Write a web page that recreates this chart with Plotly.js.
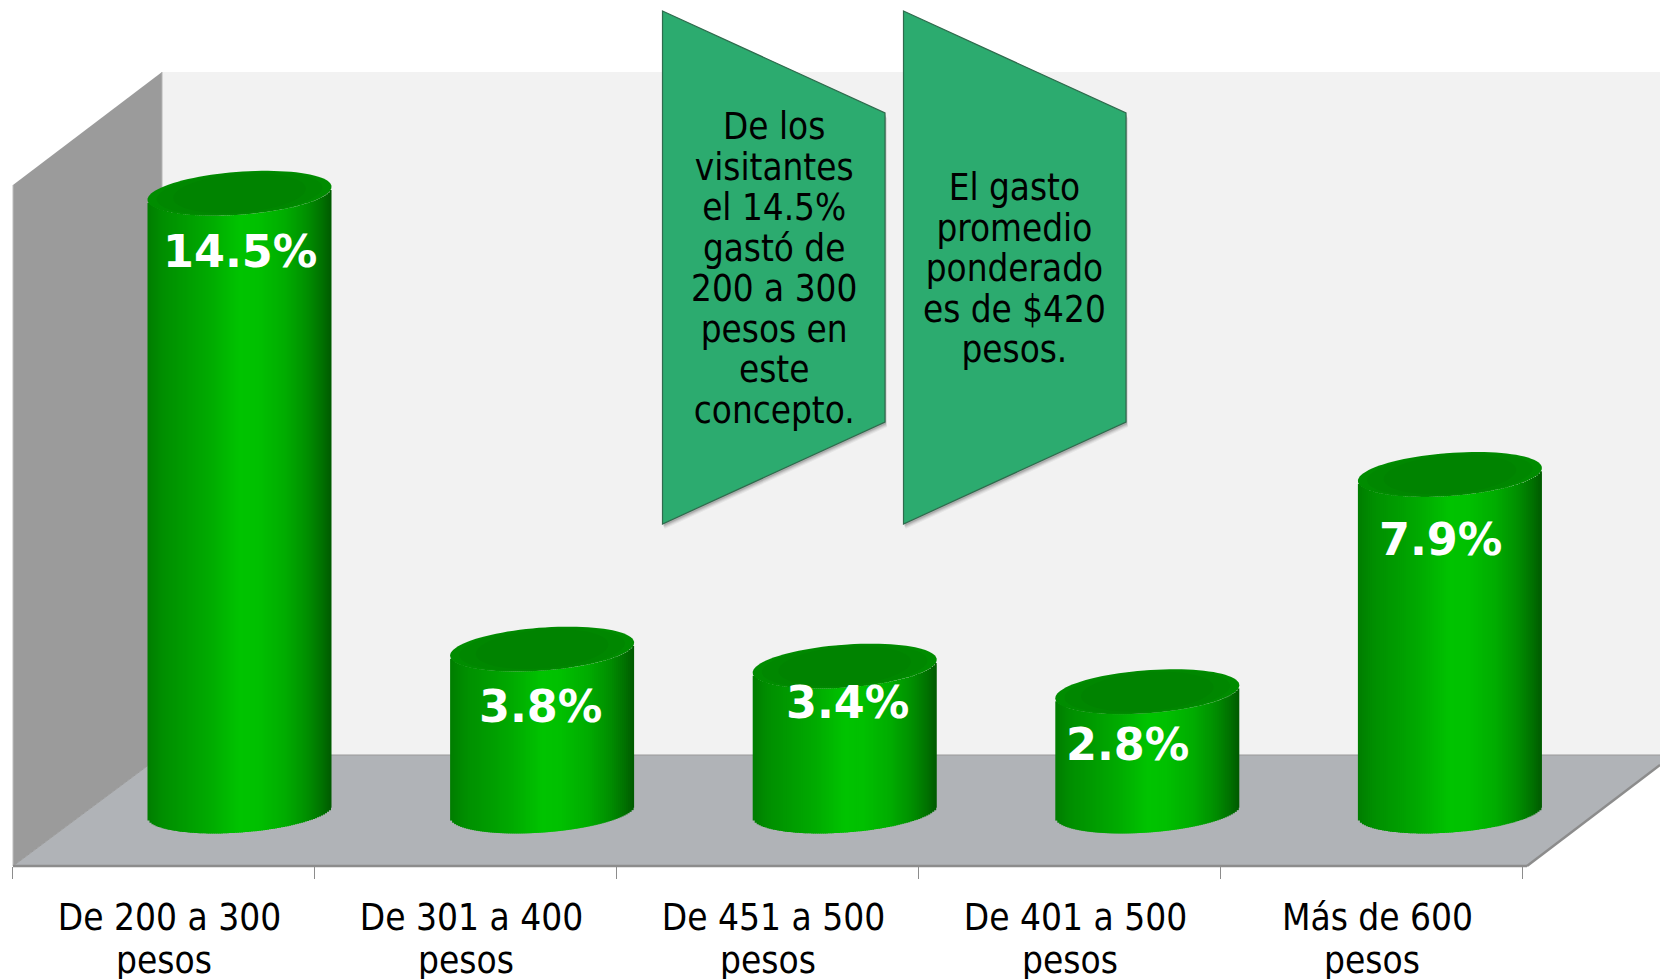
<!DOCTYPE html>
<html>
<head>
<meta charset="utf-8">
<script src="https://cdn.plot.ly/plotly-3.0.1.min.js"></script>
<style>html,body{margin:0;padding:0;background:#fff;overflow:hidden}#chart{width:1660px;height:979px}</style>
</head>
<body>
<div id="chart"></div>
<script>
// ---- data ----
const categories = ['De 200 a 300<br>pesos','De 301 a 400<br>pesos','De 451 a 500<br>pesos','De 401 a 500<br>pesos','Más de 600<br>pesos'];
const values = [14.5, 3.8, 3.4, 2.8, 7.9];
const valueLabels = ['14.5%','3.8%','3.4%','2.8%','7.9%'];
const labelShiftX = [76, 75, 80, 58, 69];
const labelShiftY = [-58, -57, -36, -53, -65];
const calloutA = 'De los<br>visitantes<br>el 14.5%<br>gastó de<br>200 a 300<br>pesos en<br>este<br>concepto.';
const calloutB = 'El gasto<br>promedio<br>ponderado<br>es de $420<br>pesos.';

// ---- page geometry (px) ----
const W = 1660, H = 979;
const axisY = 866, zeroY = 811, pxPerUnit = 42.6;
const slotLeft = 12.5, slotW = 302;
const cylShift = 76 / slotW, cylDrift = 0.6 / slotW;
const cylHalfW = 92, tiltPx = 6.5, capPx = 21.5;
const noteSpacing = 1.11, tickSpacing = 1.19, noteFontPx = 36.5, tickFontPx = 36.7;
const textFont = 'DejaVu Sans Condensed, Noto Sans';
const gradStops = [[0,[0,125,0]],[.08,[0,142,0]],[.2,[0,155,0]],[.35,[0,172,0]],[.5,[0,195,0]],[.6,[0,192,0]],[.75,[0,172,0]],[.87,[0,142,0]],[.95,[0,112,0]],[1,[0,90,0]]];

const gradAt = f => {
  for (let i = 1; i < gradStops.length; i++) {
    if (f <= gradStops[i][0]) {
      const [a, ca] = gradStops[i-1], [b, cb] = gradStops[i], t = (f-a)/(b-a);
      return 'rgb(' + ca.map((c,j) => Math.round(c+(cb[j]-c)*t)).join(',') + ')';
    }
  }
  return 'rgb(0,90,0)';
};

const rim = u => (tiltPx*u - capPx*Math.sqrt(Math.max(0,1-u*u))) / pxPerUnit;

// cylinder body: narrow overlaid bars shaded across the width
const nStrips = 92;
const traces = [];
const cylW = 2*cylHalfW/slotW;
for (let k = 0; k < nStrips; k++) {
  const f = (k+0.5)/nStrips, u = 2*f-1;
  const overlap = k < nStrips-1 ? 1.5/slotW : 0;
  traces.push({
    type:'bar', x:categories, y:values,
    base:values.map(()=>rim(u)),
    width:values.map(()=>cylW/nStrips + overlap),
    offset:values.map((_,i)=>cylShift + i*cylDrift - cylW/2 + k*cylW/nStrips),
    marker:{color:gradAt(f), line:{width:0}},
    hoverinfo:'skip', showlegend:false
  });
}

const poly = (pts) => 'M' + pts.map(p => (p[0]/W).toFixed(5)+' '+((axisY-p[1])/axisY).toFixed(5)).join(' L') + ' Z';
const paperShape = (pts, fill, line, lw, layer, opacity) => ({
  type:'path', xref:'paper', yref:'paper', path:poly(pts), fillcolor:fill||'rgba(0,0,0,0)',
  line:{color:line||'rgba(0,0,0,0)', width:lw||0}, layer:layer||'below', opacity:opacity===undefined?1:opacity
});
const seg = (a,b,color,lw,layer) => ({
  type:'line', xref:'paper', yref:'paper', x0:a[0]/W, x1:b[0]/W, y0:(axisY-a[1])/axisY, y1:(axisY-b[1])/axisY,
  line:{color, width:lw}, layer:layer||'below'
});

const shapes = [
  paperShape([[162,72],[W,72],[W,755],[162,755]], '#f2f2f2'),
  paperShape([[13,185],[162,72],[162,755],[13,866]], '#9b9b9b'),
  paperShape([[13,866],[162,755],[W,755],[W,765],[1527,866]], '#b0b3b7'),
  seg([162,755],[W,755],'#9a9a9a',1),
  seg([13,866],[162,755],'#9a9a9a',1),
  seg([162,72],[162,755],'#b5b5b5',1),
  seg([13,185],[13,866],'#bdbdbd',1),
  seg([1527,866],[W,765],'#8c8c8c',2.5),
  seg([13,866],[1527,866],'#8c8c8c',2.5)
];

const capPath = (i, scaleX, scaleY) => {
  const pts = [];
  const c = i + cylShift + i*cylDrift;
  for (let d = 0; d < 360; d += 4) {
    const t = d*Math.PI/180;
    const x = c + scaleX*cylHalfW*Math.cos(t)/slotW;
    const y = values[i] + (scaleY*capPx*Math.sin(t) + scaleX*tiltPx*Math.cos(t))/pxPerUnit;
    pts.push(x.toFixed(4)+' '+y.toFixed(4));
  }
  return 'M' + pts.join(' L') + ' Z';
};
values.forEach((v,i) => {
  shapes.push({type:'path', xref:'x', yref:'y', path:capPath(i,1,1), fillcolor:'#008c00', line:{width:0}, layer:'above'});
  shapes.push({type:'path', xref:'x', yref:'y', path:capPath(i,0.9,0.97), fillcolor:'#008700', line:{width:0}, layer:'above'});
  shapes.push({type:'path', xref:'x', yref:'y', path:capPath(i,0.72,0.9), fillcolor:'#008300', line:{width:0}, layer:'above'});
});

const calloutPts = x => [[x,11],[x+222.5,113],[x+222.5,422],[x,524]];
[662.5,903.5].forEach(x => {
  [[2,5,.05],[1.5,4,.07],[1,3,.09],[1,2,.11]].forEach(([dx,dy,o]) => {
    shapes.push(paperShape(calloutPts(x).map(p=>[p[0]+dx,p[1]+dy]), '#000000', null, 0, 'above', o));
  });
  shapes.push(paperShape(calloutPts(x), '#2cab6f', '#2f6b4d', 1.2, 'above'));
});

const annotations = values.map((v,i) => ({
  x:categories[i], y:v, xref:'x', yref:'y', text:valueLabels[i], showarrow:false,
  xshift:labelShiftX[i], yshift:labelShiftY[i], xanchor:'center', yanchor:'middle',
  font:{family:'DejaVu Sans', size:44.5, color:'#ffffff', weight:700}
}));
const calloutNote = (text, cx, cy) => {
  const n = text.split('<br>').length;
  const comp = (n-1)*(1.3-noteSpacing)*noteFontPx/2;
  return {x:cx/W, y:(axisY-cy)/axisY, xref:'paper', yref:'paper', text, showarrow:false,
    xanchor:'center', yanchor:'middle', align:'center', yshift:-comp,
    font:{family:textFont, size:noteFontPx, color:'#000000'}};
};
annotations.push(calloutNote(calloutA, 774, 268.5));
annotations.push(calloutNote(calloutB, 1014.5, 268.5));

const layout = {
  width:W, height:H, margin:{l:0,r:0,t:0,b:H-axisY,pad:0},
  paper_bgcolor:'#ffffff', plot_bgcolor:'rgba(0,0,0,0)',
  barmode:'overlay', showlegend:false, hovermode:false,
  xaxis:{
    type:'category', categoryorder:'array', categoryarray:categories,
    range:[-0.5 - slotLeft/slotW, -0.5 + (W-slotLeft)/slotW],
    tickson:'boundaries', ticks:'outside', ticklen:12, tickwidth:1.5, tickcolor:'#8c8c8c',
    tickangle:0, showgrid:false, zeroline:false, showline:false, automargin:false,
    ticklabelshift:6, ticklabelstandoff:26,
    tickfont:{family:textFont, size:tickFontPx, color:'#000000'}
  },
  yaxis:{
    range:[(zeroY-axisY)/pxPerUnit, zeroY/pxPerUnit],
    visible:false, showgrid:false, zeroline:false, automargin:false
  },
  shapes, annotations
};

Plotly.newPlot('chart', traces, layout, {displayModeBar:false, responsive:false, staticPlot:true}).then(gd => {
  gd.querySelectorAll('.xtick tspan.line').forEach(t => {
    const dy = parseFloat(t.getAttribute('dy'));
    if (dy > 0) {
      t.setAttribute('dy', (dy/1.3*tickSpacing).toFixed(3)+'em');
      t.setAttribute('x', (parseFloat(t.getAttribute('x'))-5.5).toFixed(2));
    }
  });
  gd.querySelectorAll('.annotation tspan.line').forEach(t => {
    const dy = parseFloat(t.getAttribute('dy'));
    if (dy > 0) t.setAttribute('dy', (dy/1.3*noteSpacing).toFixed(3)+'em');
  });
});
</script>
</body>
</html>
